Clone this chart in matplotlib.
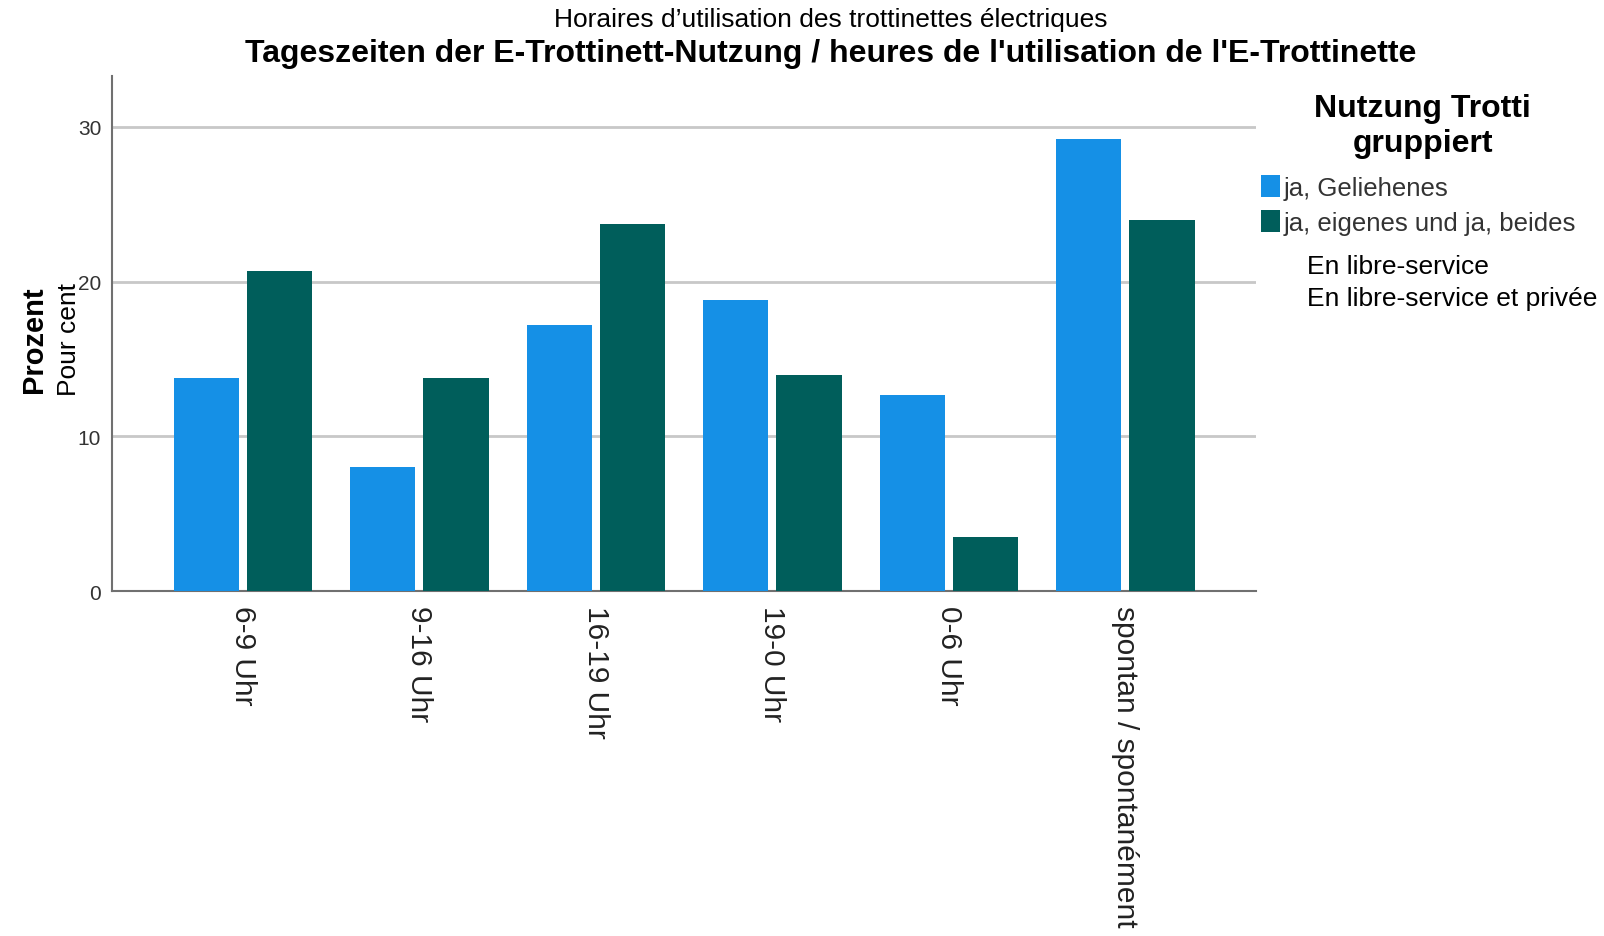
import matplotlib as mpl
import matplotlib.pyplot as plt
import numpy as np

mpl.rcParams["font.family"] = ["Liberation Sans", "DejaVu Sans"]

categories = ["6-9 Uhr", "9-16 Uhr", "16-19 Uhr", "19-0 Uhr", "0-6 Uhr",
              "spontan / spontanément"]
geliehen = [13.8, 8.0, 17.2, 18.8, 12.7, 29.2]
eigenes = [20.7, 13.8, 23.7, 14.0, 3.5, 24.0]
series_labels = ["ja, Geliehenes", "ja, eigenes und ja, beides"]
series_labels_fr = ["En libre-service", "En libre-service et privée"]
colors = ["#1590e6", "#005e5b"]

fig = plt.figure(figsize=(16.04, 9.37), dpi=100)
ax = fig.add_axes([0.070, 0.368, 0.713, 0.550])

x = np.arange(len(categories))
w = 0.37
off = 0.207
ax.bar(x - off, geliehen, w, color=colors[0], label=series_labels[0], zorder=3)
ax.bar(x + off, eigenes, w, color=colors[1], label=series_labels[1], zorder=3)

ax.set_xlim(-0.74, len(categories) - 1 + 0.74)
ax.set_ylim(0, 33.3)
ax.set_yticks([0, 10, 20, 30])
ax.yaxis.grid(True, color="#c8c8c8", linewidth=2, zorder=0)
ax.set_axisbelow(True)

for s in ["top", "right"]:
    ax.spines[s].set_visible(False)
for s in ["left", "bottom"]:
    ax.spines[s].set_color("#707070")
    ax.spines[s].set_linewidth(1.5)

ax.tick_params(axis="y", length=0, labelsize=15, labelcolor="#333333", pad=8)
ax.tick_params(axis="x", length=0, labelsize=21.5, labelcolor="#222222", pad=10)
ax.set_xticks(x)
ax.set_xticklabels(categories, rotation=270, va="top", ha="center")

# y label: German bold + French below
fig.text(0.021, 0.637, "Prozent", rotation=90, fontsize=21, fontweight="bold",
         ha="center", va="center")
fig.text(0.043, 0.638, "Pour cent", rotation=90, fontsize=19,
         ha="center", va="center")

# titles
fig.text(0.518, 0.979, "Horaires d’utilisation des trottinettes électriques",
         fontsize=19, ha="center", va="center")
fig.text(0.518, 0.942,
         "Tageszeiten der E-Trottinett-Nutzung / heures de l'utilisation de l'E-Trottinette",
         fontsize=23, fontweight="bold", ha="center", va="center")

# legend title drawn separately so the gap to the entries matches
fig.text(0.887, 0.865, "Nutzung Trotti\ngruppiert", fontsize=23,
         fontweight="bold", ha="center", va="center", multialignment="center")
leg = ax.legend(loc="upper left", bbox_to_anchor=(0.786, 0.812),
                bbox_transform=fig.transFigure, frameon=False,
                handlelength=0.75, handleheight=0.95, handletextpad=0.15,
                labelspacing=0.38, fontsize=18.5, borderaxespad=0, borderpad=0)
for t in leg.get_texts():
    t.set_color("#333333")

fig.text(0.815, 0.715, series_labels_fr[0], fontsize=19, va="center")
fig.text(0.815, 0.681, series_labels_fr[1], fontsize=19, va="center")

fig.savefig("out.png", dpi=100)
